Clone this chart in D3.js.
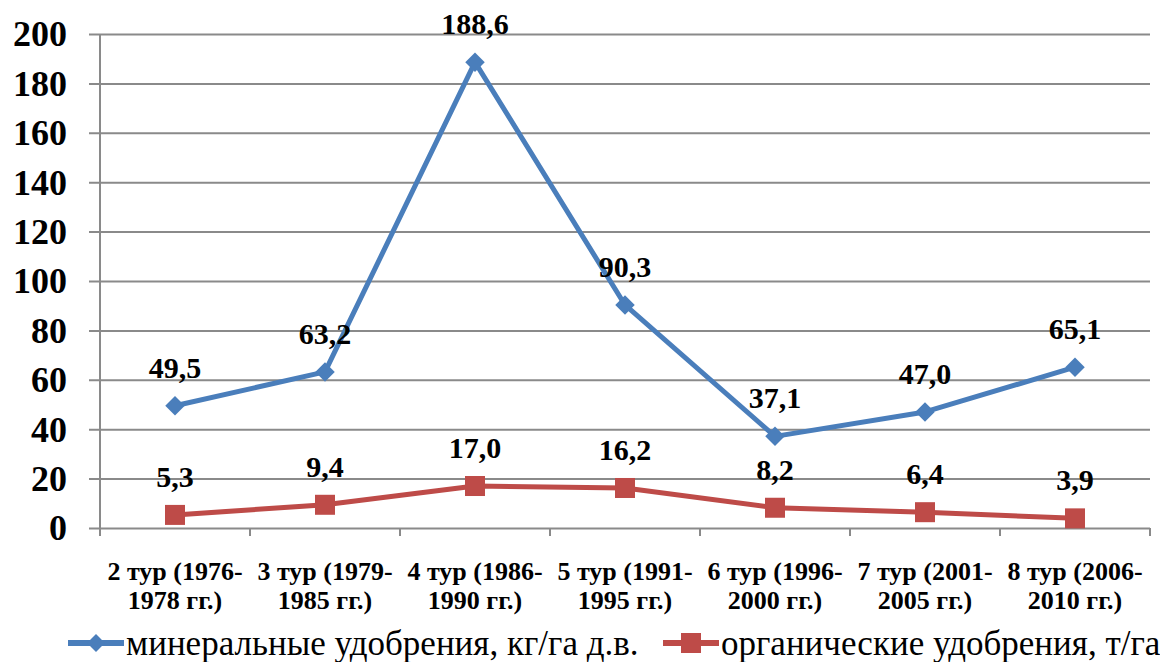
<!DOCTYPE html>
<html>
<head>
<meta charset="utf-8">
<script src="https://cdn.jsdelivr.net/npm/d3@7"></script>
<style>
  html, body { margin: 0; padding: 0; background: #fff; }
  svg { display: block; }
  svg text { font-family: "Liberation Serif", Tinos, "Times New Roman", "DejaVu Serif", serif; }
</style>
</head>
<body>
<svg id="chart" width="1160" height="662"></svg>
<script>
// Rounds of agrochemical survey (two-line labels, split after the hyphen)
const categories = [
  ["2 тур (1976-", "1978 гг.)"],
  ["3 тур (1979-", "1985 гг.)"],
  ["4 тур (1986-", "1990 гг.)"],
  ["5 тур (1991-", "1995 гг.)"],
  ["6 тур (1996-", "2000 гг.)"],
  ["7 тур (2001-", "2005 гг.)"],
  ["8 тур (2006-", "2010 гг.)"]
];
const mineral = [49.5, 63.2, 188.6, 90.3, 37.1, 47.0, 65.1];
const organic = [5.3, 9.4, 17.0, 16.2, 8.2, 6.4, 3.9];
const seriesNames = ["минеральные удобрения, кг/га д.в.", "органические удобрения, т/га"];
const yTicks = [0, 20, 40, 60, 80, 100, 120, 140, 160, 180, 200];

const BLUE = "#4a7ebb";
const RED = "#be4b48";
const GRID = "#8a8a8a";

const svg = d3.select("#chart");
const plot = { left: 100, right: 1150, top: 34, bottom: 528 };

const x = d3.scaleBand().domain(d3.range(categories.length)).range([plot.left, plot.right]).padding(0);
const y = d3.scaleLinear().domain([0, 200]).range([plot.bottom, plot.top]);
const cx = i => x(i) + x.bandwidth() / 2;

// horizontal gridlines with short outer ticks
const yAxis = d3.axisLeft(y).tickValues(yTicks).tickSizeInner(-(plot.right - plot.left)).tickSizeOuter(0).tickPadding(33).tickFormat(d3.format("d"));
const gy = svg.append("g").attr("transform", `translate(${plot.left},0)`).call(yAxis);
gy.attr("font-family", null);
gy.select(".domain").remove();
gy.selectAll(".tick line").attr("x1", -11).attr("stroke", GRID).attr("stroke-width", 2);
gy.selectAll(".tick text")
  .attr("font-weight", "bold").attr("font-size", 36)
  .attr("fill", "#000").attr("dy", "0.33em");

// vertical axis line
svg.append("line").attr("x1", plot.left).attr("x2", plot.left).attr("y1", plot.top).attr("y2", plot.bottom + 7)
  .attr("stroke", GRID).attr("stroke-width", 2);

// category boundary ticks on the x axis
const edges = d3.range(categories.length + 1).map(i => i < categories.length ? x(i) : plot.right);
svg.append("g").selectAll("line").data(edges).join("line")
  .attr("x1", d => d).attr("x2", d => d).attr("y1", plot.bottom).attr("y2", plot.bottom + 8)
  .attr("stroke", GRID).attr("stroke-width", 2);

// category labels
const xl = svg.append("g").selectAll("text").data(categories).join("text")
  .attr("x", (d, i) => cx(i)).attr("y", 580)
  .attr("text-anchor", "middle").attr("font-weight", "bold")
  .attr("font-size", 26).attr("fill", "#000");
xl.append("tspan").attr("x", (d, i) => cx(i)).text(d => d[0]);
xl.append("tspan").attr("x", (d, i) => cx(i)).attr("dy", 29).text(d => d[1]);

const line = d3.line().x((d, i) => cx(i)).y(d => y(d));
const fmt = v => v.toFixed(1).replace(".", ",");

function drawSeries(values, color, shape) {
  const g = svg.append("g");
  g.append("path").datum(values).attr("d", line)
    .attr("fill", "none").attr("stroke", color).attr("stroke-width", 5).attr("stroke-linejoin", "round");
  if (shape === "diamond") {
    g.selectAll("path.m").data(values).join("path").attr("class", "m")
      .attr("d", d3.symbol().type(d3.symbolSquare).size(190))
      .attr("transform", (d, i) => `translate(${cx(i)},${y(d)}) rotate(45)`)
      .attr("fill", color);
  } else {
    g.selectAll("rect.m").data(values).join("rect").attr("class", "m")
      .attr("x", (d, i) => cx(i) - 10).attr("y", d => y(d) - 10)
      .attr("width", 20).attr("height", 20).attr("fill", color);
  }
  g.selectAll("text").data(values).join("text")
    .attr("x", (d, i) => cx(i)).attr("y", d => y(d) - 28)
    .attr("text-anchor", "middle").attr("font-weight", "bold")
    .attr("font-size", 30).attr("fill", "#000").text(fmt);
}
drawSeries(mineral, BLUE, "diamond");
drawSeries(organic, RED, "square");

// legend
const legend = [
  { name: seriesNames[0], color: BLUE, shape: "diamond", x: 68 },
  { name: seriesNames[1], color: RED, shape: "square", x: 663 }
];
const lg = svg.append("g").selectAll("g").data(legend).join("g")
  .attr("transform", d => `translate(${d.x},643)`);
lg.append("line").attr("x1", 0).attr("x2", 56).attr("y1", 0).attr("y2", 0)
  .attr("stroke", d => d.color).attr("stroke-width", 6);
lg.filter(d => d.shape === "diamond").append("path")
  .attr("d", d3.symbol().type(d3.symbolSquare).size(160))
  .attr("transform", "translate(28,0) rotate(45)").attr("fill", d => d.color);
lg.filter(d => d.shape === "square").append("rect")
  .attr("x", 18).attr("y", -10).attr("width", 20).attr("height", 20).attr("fill", d => d.color);
lg.append("text").attr("x", 58).attr("y", 12)
  .attr("font-size", 35).attr("fill", "#000").text(d => d.name);
</script>
</body>
</html>
